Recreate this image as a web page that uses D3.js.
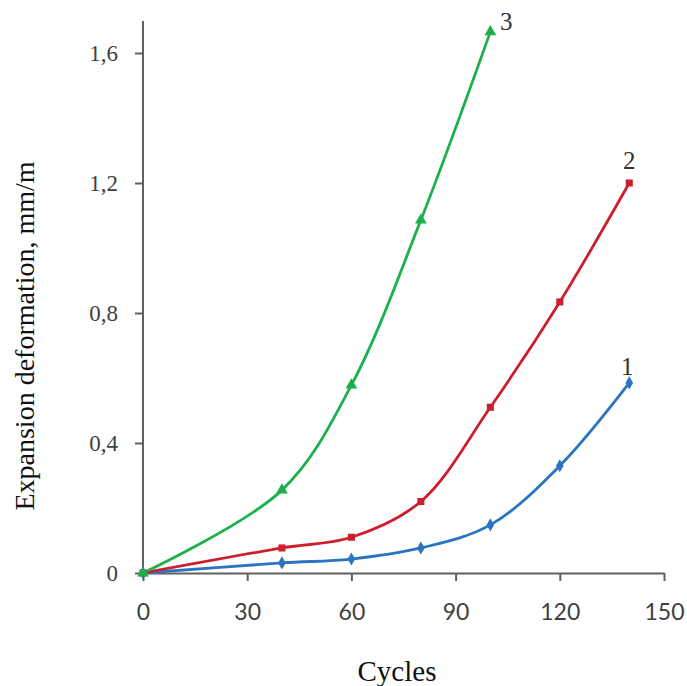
<!DOCTYPE html>
<html><head><meta charset="utf-8">
<script src="https://cdn.jsdelivr.net/npm/d3@7"></script>
<style>body{margin:0;background:#fff}</style>
</head><body>
<svg id="c" width="687" height="686"></svg>
<script>
const cycles = [0, 40, 60, 80, 100, 120, 140];
const series1 = [0, 0.031, 0.043, 0.077, 0.148, 0.33, 0.585];
const series2 = [0, 0.077, 0.11, 0.22, 0.51, 0.834, 1.2];
const cycles3 = [0, 40, 60, 80, 100];
const series3 = [0, 0.255, 0.578, 1.086, 1.665];
const xTicks = [0, 30, 60, 90, 120, 150];
const yTicks = [0, 0.4, 0.8, 1.2, 1.6];
const yTickLabels = ["0", "0,4", "0,8", "1,2", "1,6"];
const seriesNames = ["1", "2", "3"];
const colors = ["#2a74c0", "#cc1f2e", "#1cb04c"];

const svg = d3.select("#c");
const x = d3.scaleLinear().domain([0, 150]).range([143, 664]);
const y = d3.scaleLinear().domain([0, 1.6]).range([573, 53]);
const axisColor = "#606060";

// axes
const xa = svg.append("g").attr("transform", "translate(0,573)")
  .call(d3.axisBottom(x).tickValues(xTicks).tickSize(8).tickSizeOuter(0).tickPadding(23));
xa.select(".domain").attr("stroke", axisColor).attr("stroke-width", 2);
xa.selectAll(".tick line").attr("stroke", axisColor).attr("stroke-width", 2);
xa.selectAll(".tick text").attr("font-family", "Lato, 'Open Sans', sans-serif").attr("font-size", 23).attr("fill", "#404040");

const ya = svg.append("g").attr("transform", "translate(143,0)")
  .call(d3.axisLeft(y).tickValues(yTicks).tickFormat((d,i)=>yTickLabels[i]).tickSize(8).tickSizeOuter(0).tickPadding(17));
ya.select(".domain").attr("stroke", axisColor).attr("stroke-width", 2).attr("d", "M0,573V21");
ya.selectAll(".tick line").attr("stroke", axisColor).attr("stroke-width", 2);
ya.selectAll(".tick text").attr("font-family", "'Liberation Serif', serif").attr("font-size", 23).attr("fill", "#404040");

// lines
const line = d3.line().x(d=>x(d[0])).y(d=>y(d[1])).curve(d3.curveCatmullRom.alpha(0.5));
const data = [
  cycles.map((c,i)=>[c, series1[i]]),
  cycles.map((c,i)=>[c, series2[i]]),
  cycles3.map((c,i)=>[c, series3[i]])
];
data.forEach((d,k)=>{
  svg.append("path").datum(d).attr("d", line).attr("fill","none")
    .attr("stroke", colors[k]).attr("stroke-width", 2.8);
});
const symbols = [d3.symbolDiamond, d3.symbolSquare, d3.symbolTriangle];
const sizes = [50, 50, 60];
data.forEach((d,k)=>{
  svg.append("g").selectAll("path").data(d).join("path")
    .attr("transform", p=>`translate(${x(p[0])},${y(p[1])})`)
    .attr("d", d3.symbol(symbols[k], sizes[k]))
    .attr("fill", colors[k]);
});

// series labels
const lblPos = [[140, 0.585], [140, 1.2], [100, 1.665]];
const lblOff = [[-2, -8], [0, -14], [16, -2]];
seriesNames.forEach((n,k)=>{
  svg.append("text").attr("x", x(lblPos[k][0]) + lblOff[k][0]).attr("y", y(lblPos[k][1]) + lblOff[k][1])
    .attr("text-anchor","middle").attr("font-family","'Liberation Serif', serif").attr("font-size", 25)
    .attr("fill","#333").text(n);
});

// axis titles
svg.append("text").attr("x", 397).attr("y", 681).attr("text-anchor","middle")
  .attr("font-family","'Liberation Serif', serif").attr("font-size", 29).attr("fill","#111").text("Cycles");
svg.append("text").attr("transform","translate(34,336) rotate(-90)").attr("text-anchor","middle")
  .attr("font-family","'Liberation Serif', serif").attr("font-size", 28).attr("fill","#111").text("Expansion deformation, mm/m");
</script>
</body></html>
